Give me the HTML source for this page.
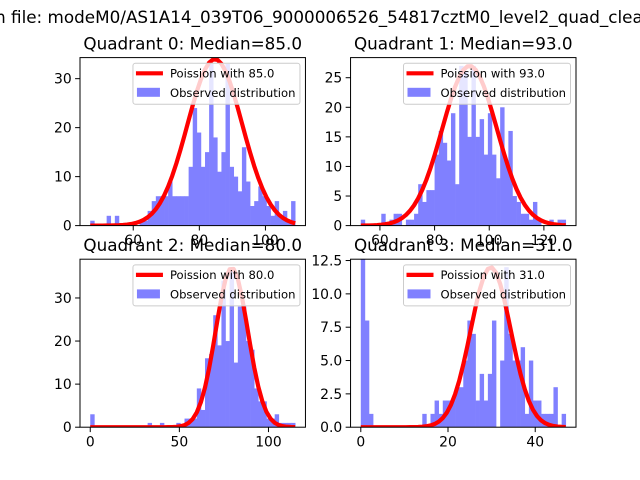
<!DOCTYPE html>
<html><head><meta charset="utf-8"><style>
html,body{margin:0;padding:0;background:#fff;}
svg{display:block;font-family:"DejaVu Sans","Liberation Sans",sans-serif;}
</style></head><body>
<svg id="fig" width="640" height="480" viewBox="0 0 640 480">
<rect width="640" height="480" fill="#fff"/>
<text id="sup" x="0" y="23" font-size="16.8" fill="#000">Histogram file: modeM0/AS1A14_039T06_9000006526_54817cztM0_level2_quad_clean.evt</text>
</svg>
<script>
// ---- data ----
const titles = ["Quadrant 0: Median=85.0","Quadrant 1: Median=93.0","Quadrant 2: Median=80.0","Quadrant 3: Median=31.0"];
const legendLabels = ["Poission with 85.0","Poission with 93.0","Poission with 80.0","Poission with 31.0"];
const dataMin = [47, 53, 0, 0];
const dataMax = [109, 128, 115, 47];
const yMax = [34.3, 28.4, 39, 12.6];
const counts0 = [1,0,0,0,2,0,2,0,0,0,0,0,1,1,3,5,6,6,6,9,6,6,6,6,12,24,19,12,15,33,18,11,15,33,12,10,7,16,9,4,5,8,6,4,2,5,2,3,1,5];
const counts1 = [1,0,0,0,0,2,0,1,2,2,0,1,1,2,7,4,6,6,12,16,14,11,19,7,27,26,15,27,15,18,12,19,12,8,20,11,16,5,4,2,2,1,4,1,0,0,1,0,1,1];
const counts2 = [3,0,0,0,0,0,0,0,0,0,0,0,0,0,1,0,0,1,0,0,0,1,0,2,2,2,9,4,16,17,26,19,34,20,37,15,28,28,20,18,9,6,6,2,2,3,1,1,1,1];
const counts3 = [12.6,8,1,0,0,0,0,0,0,0,0,0,0,0,0,1,0,1,2,1,2,2,2,3,3,5,8,7,2,4,2,4,8,0,5,12,7,5,5,6,1,5,2,2,1,1,1,3,0,1];
const counts = [counts0, counts1, counts2, counts3];
const curveCenter = [84.7, 92.8, 79.4, 29.8];
const curveSigma = [8.3, 10, 9, 4.6];
const curvePeak = [34, 27, 37, 12];
const xTicks = [[60,80,100],[60,80,100,120],[0,50,100],[0,20,40]];
const yTicks = [[0,10,20,30],[0,5,10,15,20,25],[0,10,20,30],[0,2.5,5,7.5,10,12.5]];
const yTickLabels = [["0","10","20","30"],["0","5","10","15","20","25"],["0","10","20","30"],["0.0","2.5","5.0","7.5","10.0","12.5"]];

// ---- layout ----
const NS = "http://www.w3.org/2000/svg";
const svg = document.getElementById("fig");
const AW = 225.45, AH = 168;
const boxes = [[80,57.6],[350.55,57.6],[80,259.2],[350.55,259.2]];
function mk(tag, attrs, parent){const e=document.createElementNS(NS,tag);for(const k in attrs)e.setAttribute(k,attrs[k]);(parent||svg).appendChild(e);return e;}

for(let p=0;p<4;p++){
  const [L,T]=boxes[p];
  const g=mk("g",{});
  
  
  const lo=dataMin[p], hi=dataMax[p], pad=(hi-lo)*0.05;
  const x0=lo-pad, x1=hi+pad;
  const sx=v=>L+(v-x0)/(x1-x0)*AW;
  const sy=v=>T+AH-v/yMax[p]*AH;
  const clipId="clip"+p;
  const cp=mk("clipPath",{id:clipId},g); mk("rect",{x:L,y:T,width:AW,height:AH},cp);
  const data=counts[p], n=data.length, bw=(hi-lo)/n;
  const bars=mk("g",{"clip-path":"url(#"+clipId+")"},g);
  for(let i=0;i<n;i++){
    if(data[i]<=0) continue;
    const xa=sx(lo+i*bw), xb=sx(lo+(i+1)*bw);
    const r=mk("rect",{x:xa,y:sy(data[i]),width:xb-xa+0.3,height:sy(0)-sy(data[i]),fill:"#8080ff"},bars);
    
    
  }
  let d="";
  for(let i=0;i<=n;i++){
    const x=lo+i*bw;
    const z=(x-curveCenter[p])/curveSigma[p];
    const y=curvePeak[p]*Math.exp(-0.5*z*z);
    d+=(i?"L":"M")+sx(x).toFixed(2)+","+sy(y).toFixed(2);
  }
  const cur=mk("path",{d:d,fill:"none",stroke:"#ff0000","stroke-width":4.2,"stroke-linejoin":"round"},bars);
  
  
  const fr=mk("rect",{x:L,y:T,width:AW,height:AH,fill:"none",stroke:"#000","stroke-width":1},g);
  
  
  xTicks[p].forEach(v=>{
    const x=sx(v);
    mk("line",{x1:x,x2:x,y1:T+AH,y2:T+AH+4.9,stroke:"#000","stroke-width":1},g);
    const t=mk("text",{x:x,y:T+AH+19.5,"font-size":13.9,"text-anchor":"middle"},g);
    t.textContent=String(v);
    
    
  });
  yTicks[p].forEach((v,i)=>{
    const y=sy(v);
    mk("line",{x1:L-4.9,x2:L,y1:y,y2:y,stroke:"#000","stroke-width":1},g);
    const t=mk("text",{x:L-8.3,y:y+5,"font-size":13.9,"text-anchor":"end"},g);
    t.textContent=yTickLabels[p][i];
    
    
  });
  const tt=mk("text",{x:L+AW/2,y:T-8,"font-size":16.8,"text-anchor":"middle"},g);
  tt.textContent=titles[p];
  
  
  const lg=mk("g",{},g);
  
  
  const lw=167, lh=41, lx=L+AW-5.5-lw, ly=T+5.7;
  mk("rect",{x:lx,y:ly,width:lw,height:lh,rx:2.5,fill:"#fff","fill-opacity":0.8,stroke:"#cccccc","stroke-width":1},lg);
  mk("line",{x1:lx+3,x2:lx+30,y1:ly+10,y2:ly+10,stroke:"#ff0000","stroke-width":4.2},lg);
  const t1=mk("text",{x:lx+37,y:ly+14.2,"font-size":11.6},lg); t1.textContent=legendLabels[p];
  
  
  mk("rect",{x:lx+4,y:ly+24.5,width:23,height:9,fill:"#8080ff"},lg);
  const t2=mk("text",{x:lx+37,y:ly+33.5,"font-size":11.6},lg); t2.textContent="Observed distribution";
  
  
}
const sup=document.getElementById("sup");
const probe=mk("text",{"font-size":16.8,x:0,y:-50}); probe.textContent="Histogram file: ";
const probe2=mk("text",{"font-size":16.8,x:0,y:-50}); probe2.textContent="n file: ";
const off=probe.getComputedTextLength()-probe2.getComputedTextLength();
sup.setAttribute("x",(-5-off).toFixed(1));
probe.remove();probe2.remove();
</script>
</body></html>
